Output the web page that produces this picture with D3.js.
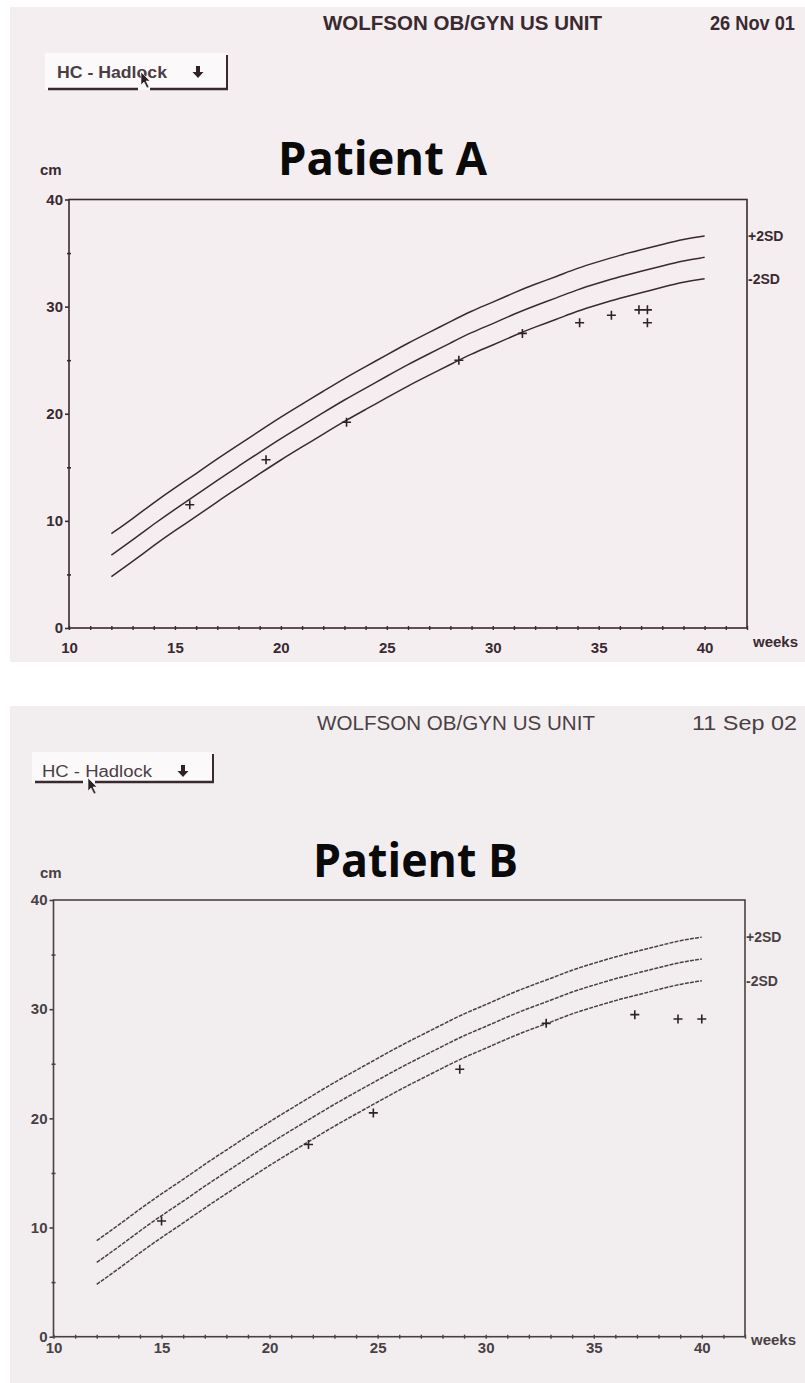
<!DOCTYPE html>
<html><head><meta charset="utf-8">
<script src="https://cdn.jsdelivr.net/npm/d3@7"></script>
<style>html,body{margin:0;padding:0;background:#fff;}svg{display:block;}</style>
</head><body>
<svg id="c" width="805" height="1383"></svg>
<script>
// ---- data ----
const weeks = [12,13,14,15,16,17,18,19,20,21,22,23,24,25,26,27,28,29,30,31,32,33,34,35,36,37,38,39,40];
const meanHC  = [6.8,8.2,9.7,11.1,12.4,13.8,15.1,16.4,17.7,18.9,20.1,21.3,22.4,23.5,24.6,25.6,26.6,27.6,28.4,29.3,30.1,30.8,31.6,32.2,32.8,33.3,33.8,34.3,34.6];
const plus2SD = [8.8,10.2,11.7,13.1,14.4,15.8,17.1,18.4,19.7,20.9,22.1,23.3,24.4,25.5,26.6,27.6,28.6,29.6,30.4,31.3,32.1,32.8,33.6,34.2,34.8,35.3,35.8,36.3,36.6];
const minus2SD= [4.8,6.2,7.7,9.1,10.4,11.8,13.1,14.4,15.7,16.9,18.1,19.3,20.4,21.5,22.6,23.6,24.6,25.6,26.4,27.3,28.1,28.8,29.6,30.2,30.8,31.3,31.8,32.3,32.6];

const patientA_weeks = [15.7,19.3,23.1,28.4,31.4,34.1,35.6,36.9,37.3,37.3];
const patientA_hc    = [11.5,15.7,19.2,25.0,27.5,28.5,29.2,29.7,29.7,28.5];
const patientB_weeks = [15.0,21.8,24.8,28.8,32.8,36.9,38.9,40.0];
const patientB_hc    = [10.6,17.6,20.5,24.5,28.7,29.5,29.1,29.1];

const xMajorTicks = [10,15,20,25,30,35,40];
const xMinorTicks = d3.range(10,43,1);
const yMajorTicks = [0,10,20,30,40];
const yMinorTicks = [5,15,25,35];

const panels = [
  {title:"Patient A", unit:"WOLFSON OB/GYN US UNIT", date:"26 Nov 01", menu:"HC - Hadlock",
   px:patientA_weeks, py:patientA_hc, bold:true},
  {title:"Patient B", unit:"WOLFSON OB/GYN US UNIT", date:"11 Sep 02", menu:"HC - Hadlock",
   px:patientB_weeks, py:patientB_hc, bold:false}
];

// ---- layout (positions / styles) ----
const layout = [
  {bg:[10,7,795,655], bgc:"#f4eef1", ink:"#3a2a30", curveInk:"#3a2a30", dash:null,
   xr:[69,747], yr:[628,199.5],
   unitX:323, unitW:279, unitY:30, dateX:710, dateW:85,
   btn:{x:45,y:53,w:182,h:37, tx:57, tw:110, ty:78, ax:198, ay:66, gap:[138,150]}, cursor:[141,72],
   titleX:278, titleW:209, titleY:175, cmX:40, cmY:175, weeksY:647, labelY:653},
  {bg:[10,706,795,677], bgc:"#f2eef0", ink:"#4a4044", curveInk:"#4a4046", dash:"4,1.2",
   xr:[53.5,745], yr:[1336.7,900],
   unitX:317, unitW:278, unitY:730, dateX:692, dateW:105,
   btn:{x:32,y:752,w:181,h:31, tx:42, tw:110, ty:777, ax:183, ay:765, gap:[83,95]}, cursor:[88,778],
   titleX:313, titleW:205, titleY:877, cmX:40, cmY:878, weeksY:1345, labelY:1353}
];

const svg = d3.select("#c");
const fontS = "'Liberation Sans', Arial, sans-serif";

panels.forEach((p,i) => {
  const L = layout[i];
  const g = svg.append("g");
  g.append("rect").attr("x",L.bg[0]).attr("y",L.bg[1]).attr("width",L.bg[2]).attr("height",L.bg[3]).attr("fill",L.bgc);

  // header
  g.append("text").attr("x",L.unitX).attr("y",L.unitY).attr("textLength",L.unitW).attr("lengthAdjust","spacingAndGlyphs")
    .attr("font-family",fontS).attr("font-weight",p.bold?"bold":"normal").attr("font-size",21).attr("fill",L.ink).text(p.unit);
  g.append("text").attr("x",L.dateX).attr("y",L.unitY).attr("textLength",L.dateW).attr("lengthAdjust","spacingAndGlyphs")
    .attr("font-family",fontS).attr("font-weight",p.bold?"bold":"normal").attr("font-size",20).attr("fill",L.ink).text(p.date);

  // menu button
  const b = L.btn;
  g.append("rect").attr("x",b.x).attr("y",b.y).attr("width",b.w).attr("height",b.h).attr("fill","#fbf9fa");
  g.append("line").attr("x1",b.x+3).attr("x2",b.gap[0]).attr("y1",b.y+b.h-1).attr("y2",b.y+b.h-1).attr("stroke","#3a2a30").attr("stroke-width",2.5);
  g.append("line").attr("x1",b.gap[1]).attr("x2",b.x+b.w+1).attr("y1",b.y+b.h-1).attr("y2",b.y+b.h-1).attr("stroke","#3a2a30").attr("stroke-width",2.5);
  g.append("line").attr("x1",b.x+b.w).attr("x2",b.x+b.w).attr("y1",b.y+2).attr("y2",b.y+b.h).attr("stroke","#3a2a30").attr("stroke-width",2);
  g.append("text").attr("x",b.tx).attr("y",b.ty).attr("textLength",b.tw).attr("lengthAdjust","spacingAndGlyphs")
    .attr("font-family",fontS).attr("font-size",16).attr("fill","#4a3e44").attr("font-weight",p.bold?"bold":"normal").text(p.menu);
  g.append("path").attr("d",`M${b.ax-2},${b.ay} h4 v6 h3.5 l-5.5,6 l-5.5,-6 h3.5 z`).attr("fill","#2e2226");
  // cursor
  const [cx,cy] = L.cursor;
  g.append("path").attr("d",`M${cx},${cy} l0,13 l3,-3 l3,6 l2,-1 l-3,-6 l4,0 z`).attr("fill","#2a2026").attr("stroke","#fbf9fa").attr("stroke-width",0.6);

  // title
  g.append("text").attr("x",L.titleX).attr("y",L.titleY).attr("textLength",L.titleW).attr("lengthAdjust","spacingAndGlyphs")
    .attr("font-family","'Open Sans', sans-serif").attr("font-weight","bold").attr("font-size",47).attr("fill","#0a0a0a").text(p.title);

  // scales
  const x = d3.scaleLinear().domain([10,42]).range(L.xr);
  const y = d3.scaleLinear().domain([0,40]).range(L.yr);

  // frame
  g.append("rect").attr("x",x(10)).attr("y",y(40)).attr("width",x(42)-x(10)).attr("height",y(0)-y(40))
    .attr("fill","none").attr("stroke",L.ink).attr("stroke-width",1.6);

  // y axis
  const ya = g.append("g").attr("transform",`translate(${x(10)},0)`)
    .call(d3.axisLeft(y).tickValues(yMajorTicks).tickSize(4).tickPadding(2).tickFormat(d3.format("d")));
  ya.select(".domain").remove();
  ya.selectAll("line").attr("stroke",L.ink).attr("stroke-width",1.6);
  ya.selectAll("text").attr("font-family",fontS).attr("font-weight","bold").attr("font-size",15).attr("fill",L.ink);
  const ym = g.append("g").attr("transform",`translate(${x(10)+2},0)`)
    .call(d3.axisLeft(y).tickValues(yMinorTicks).tickSize(4).tickFormat(""));
  ym.select(".domain").remove();
  ym.selectAll("line").attr("stroke",L.ink).attr("stroke-width",1.6);

  // x axis
  const xm = g.append("g").attr("transform",`translate(0,${y(0)+2})`)
    .call(d3.axisTop(x).tickValues(xMinorTicks).tickSize(4).tickFormat(""));
  xm.select(".domain").remove();
  xm.selectAll("line").attr("stroke",L.ink).attr("stroke-width",1.4);
  const xa = g.append("g").attr("transform",`translate(0,${y(0)})`)
    .call(d3.axisBottom(x).tickValues(xMajorTicks).tickSize(0).tickPadding(L.labelY-y(0)-11).tickFormat(d3.format("d")));
  xa.select(".domain").remove();
  xa.selectAll("text").attr("font-family",fontS).attr("font-weight","bold").attr("font-size",15).attr("fill",L.ink);

  // axis unit labels
  g.append("text").attr("x",L.cmX).attr("y",L.cmY).attr("font-family",fontS).attr("font-weight","bold").attr("font-size",15).attr("fill",L.ink).text("cm");
  g.append("text").attr("x",x(42)+6).attr("y",L.weeksY).attr("font-family",fontS).attr("font-weight","bold").attr("font-size",15).attr("fill",L.ink).text("weeks");

  // reference curves
  const line = d3.line().x((d,k)=>x(weeks[k])).y(d=>y(d)).curve(d3.curveBasis);
  [plus2SD, meanHC, minus2SD].forEach(arr => {
    g.append("path").attr("d",line(arr)).attr("fill","none").attr("stroke",L.curveInk).attr("stroke-width",1.5)
      .attr("stroke-dasharray",L.dash);
  });
  g.append("text").attr("x",x(42)+1).attr("y",y(plus2SD[plus2SD.length-1])+5).attr("font-family",fontS).attr("font-weight","bold")
    .attr("font-size",14).attr("fill",L.ink).text("+2SD");
  g.append("text").attr("x",x(42)+1).attr("y",y(minus2SD[minus2SD.length-1])+5).attr("font-family",fontS).attr("font-weight","bold")
    .attr("font-size",14).attr("fill",L.ink).text("-2SD");

  // measurements
  const s = 4.5;
  g.selectAll("path.pt").data(p.px).join("path").attr("class","pt")
    .attr("d",(d,k)=>`M${x(d)-s},${y(p.py[k])} h${2*s} M${x(d)},${y(p.py[k])-s} v${2*s}`)
    .attr("stroke","#2e2226").attr("stroke-width",1.6).attr("fill","none");
});
</script>
</body></html>
